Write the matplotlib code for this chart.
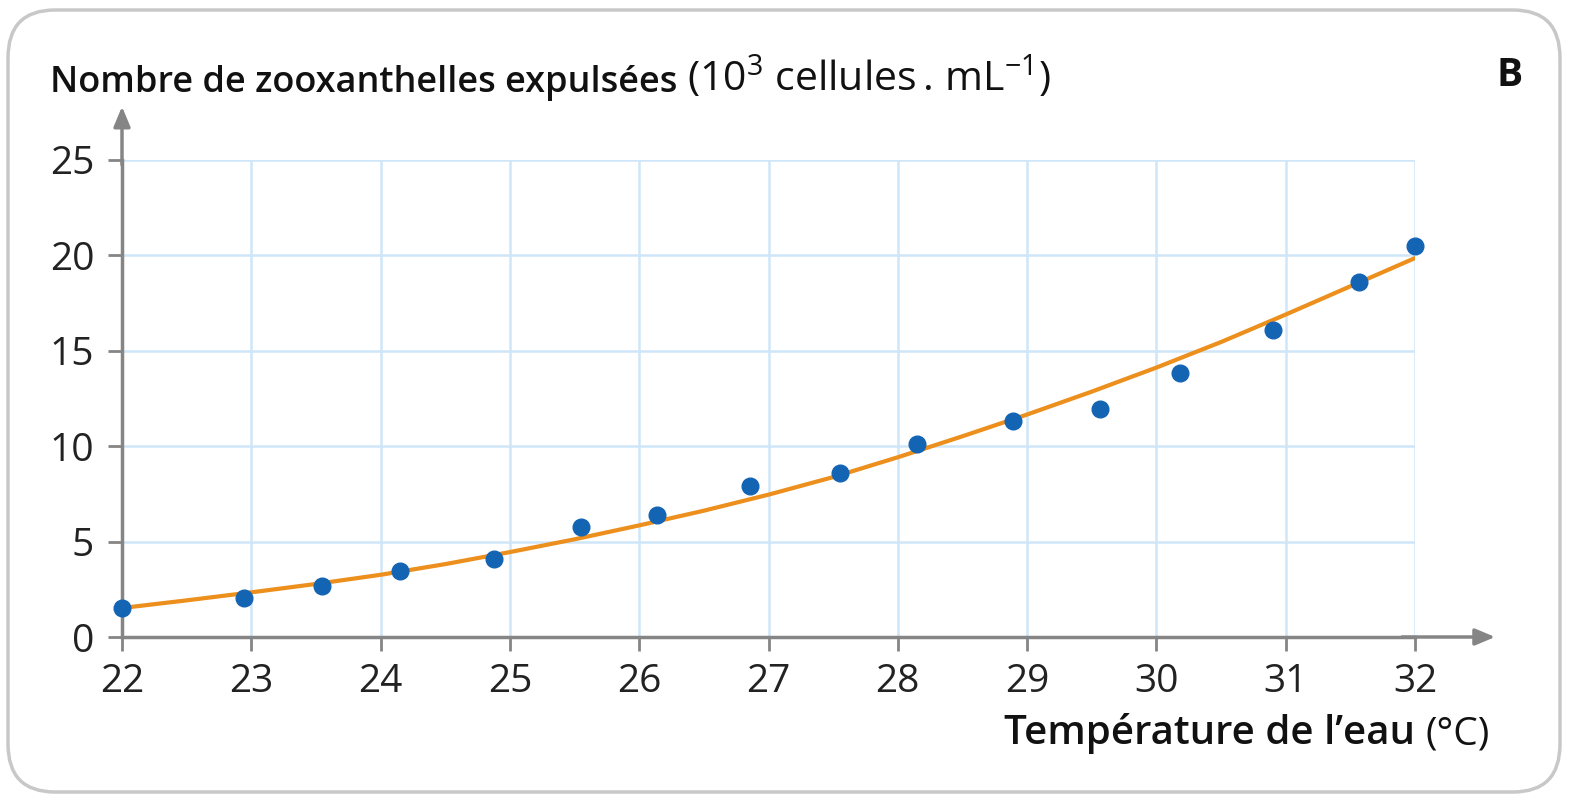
import numpy as np
import matplotlib.pyplot as plt
from matplotlib.patches import FancyBboxPatch

plt.rcParams['font.family'] = ['Open Sans', 'DejaVu Sans']
plt.rcParams['mathtext.fontset'] = 'custom'
plt.rcParams['mathtext.rm'] = 'Open Sans'
plt.rcParams['mathtext.default'] = 'regular'

# measured points (temperature in degC, expelled zooxanthellae in 10^3 cells/mL)
temp = [22.0, 22.94, 23.55, 24.15, 24.88, 25.55, 26.14, 26.86, 27.55,
        28.15, 28.89, 29.56, 30.18, 30.9, 31.57, 32.0]
count = [1.5, 2.07, 2.67, 3.45, 4.07, 5.75, 6.42, 7.92, 8.57,
         10.1, 11.32, 11.95, 13.85, 16.1, 18.58, 20.5]

# trend curve every 0.5 degC
curve_t = [22, 22.5, 23, 23.5, 24, 24.5, 25, 25.5, 26, 26.5, 27,
           27.5, 28, 28.5, 29, 29.5, 30, 30.5, 31, 31.5, 32]
curve_y = [1.52, 1.92, 2.34, 2.78, 3.26, 3.82, 4.45, 5.12, 5.85, 6.62, 7.46,
           8.38, 9.42, 10.52, 11.66, 12.86, 14.12, 15.46, 16.9, 18.38, 19.86]

xticks = list(range(22, 33))
yticks = [0, 5, 10, 15, 20, 25]

grid_col = '#cfe5f8'
axis_col = '#858585'

fig = plt.figure(figsize=(15.69, 7.98), dpi=100)
ax = fig.add_axes([122/1569, 1-637/798, (1415-122)/1569, (637-160)/798])

# rounded frame around the whole figure
frame = FancyBboxPatch((8/1569, 6/798), 1552/1569, 782/798,
                       boxstyle='round,pad=0,rounding_size=0.03',
                       transform=fig.transFigure, fill=False,
                       edgecolor='#c8c8c8', linewidth=2.5, mutation_aspect=2)
fig.patches.append(frame)

ax.set_xlim(22, 32)
ax.set_ylim(0, 25)

# grid
for x in xticks[1:]:
    ax.axvline(x, color=grid_col, lw=1.8, zorder=0)
for y in yticks[1:]:
    ax.axhline(y, color=grid_col, lw=1.8, zorder=0)

ax.plot(curve_t, curve_y, color='#ec8f1c', lw=3, zorder=3, solid_capstyle='round')
ax.plot(temp, count, 'o', color='#1464b4', ms=12, zorder=4, clip_on=False)

for s in ['top', 'right']:
    ax.spines[s].set_visible(False)
for s in ['left', 'bottom']:
    ax.spines[s].set_color(axis_col)
    ax.spines[s].set_linewidth(2.5)

# arrow heads on the axes
ax.annotate('', xy=(1.062, 0), xytext=(0.99, 0), xycoords='axes fraction',
            arrowprops=dict(arrowstyle='-|>,head_length=1.2,head_width=0.5',
                            color=axis_col, lw=2.5, shrinkA=0, shrinkB=0))
ax.annotate('', xy=(0, 1.112), xytext=(0, 0.99), xycoords='axes fraction',
            arrowprops=dict(arrowstyle='-|>,head_length=1.2,head_width=0.5',
                            color=axis_col, lw=2.5, shrinkA=0, shrinkB=0))

ax.set_xticks(xticks)
ax.set_yticks(yticks)
ax.tick_params(colors=axis_col, length=10, width=2, labelsize=28,
               labelcolor='#222222')
ax.tick_params(axis='x', pad=9)
ax.tick_params(axis='y', pad=10)

# y axis title
t1 = fig.text(50/1569, 1-83/798, 'Nombre de zooxanthelles expulsées ',
              fontsize=26, fontweight='semibold', color='#111111', va='center')
ax.annotate(r'(10$^{3}$ cellules$\,$.$\;$mL$^{-1}$)', xy=(1, 0), xycoords=t1,
            va='bottom', fontsize=29.5, color='#111111')

# x axis title
t2 = fig.text(1490/1569, 1-735/798, '(°C)', fontsize=28, color='#111111',
              ha='right', va='center')
ax.annotate('Température de l’eau ', xy=(0, 0), xycoords=t2, va='bottom',
            ha='right', fontsize=29, fontweight='semibold', color='#111111')

fig.text(1510/1569, 1-75/798, 'B', fontsize=28, fontweight='bold',
         color='#111111', ha='center', va='center')

fig.savefig('out.png', dpi=100)
